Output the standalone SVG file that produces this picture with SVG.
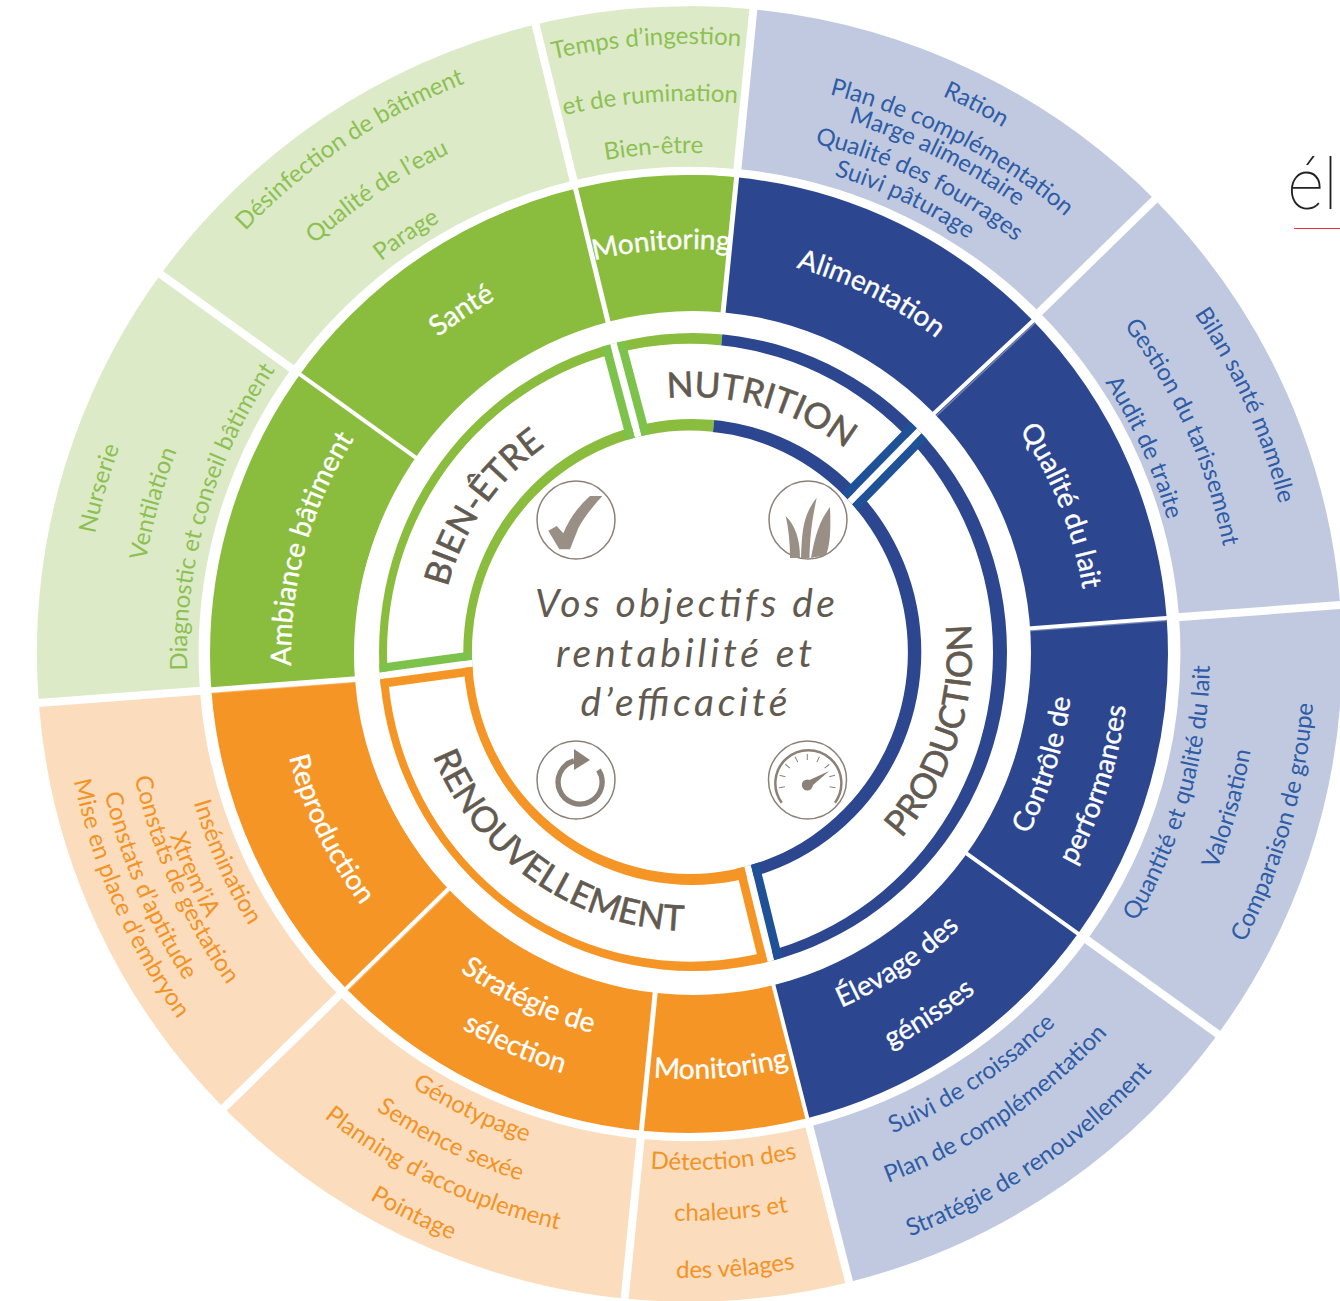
<svg xmlns="http://www.w3.org/2000/svg" xmlns:xlink="http://www.w3.org/1999/xlink" width="1340" height="1301" viewBox="0 0 1340 1301">
<style>
text{font-family:Lato,"Noto Sans",sans-serif;text-anchor:middle}
.o{font-size:24px}
.gt{fill:#8CC152}.bt{fill:#2E5CA6}.ot{fill:#F39325}
.m{font-size:28px;fill:#fff;stroke:#fff;stroke-width:.35px}
.i{font-size:35px;fill:#625A50;stroke:#625A50;stroke-width:.6px}
.c{font-size:39px;fill:#625A50;font-style:italic}
.ring{fill:none}
.ic{fill:none;stroke:#8B8178;stroke-width:1.5}
.if{fill:#998F85}
.d{stroke:#fff}
.s{stroke-width:8.5}
</style>
<defs>
<path id="t610" d="M-610 0A610 610 0 0 1 610 0"/><path id="t553" d="M-553 0A553 553 0 0 1 553 0"/><path id="t501" d="M-501 0A501 501 0 0 1 501 0"/><path id="t613" d="M-613 0A613 613 0 0 1 613 0"/><path id="t577" d="M-577 0A577 577 0 0 1 577 0"/><path id="t555" d="M-555 0A555 555 0 0 1 555 0"/><path id="t526" d="M-526 0A526 526 0 0 1 526 0"/><path id="t500" d="M-500 0A500 500 0 0 1 500 0"/><path id="t609" d="M-609 0A609 609 0 0 1 609 0"/><path id="t545" d="M-545 0A545 545 0 0 1 545 0"/><path id="t497" d="M-497 0A497 497 0 0 1 497 0"/><path id="t606" d="M-606 0A606 606 0 0 1 606 0"/><path id="t551" d="M-551 0A551 551 0 0 1 551 0"/><path id="t502" d="M-502 0A502 502 0 0 1 502 0"/><path id="t499" d="M-499 0A499 499 0 0 1 499 0"/><path id="t405" d="M-405 0A405 405 0 0 1 405 0"/><path id="t401" d="M-401 0A401 401 0 0 1 401 0"/><path id="t399" d="M-399 0A399 399 0 0 1 399 0"/><path id="t404" d="M-404 0A404 404 0 0 1 404 0"/><path id="t398" d="M-398 0A398 398 0 0 1 398 0"/><path id="t255" d="M-255 0A255 255 0 0 1 255 0"/><path id="t253" d="M-253 0A253 253 0 0 1 253 0"/>
<path id="b521" d="M-521 0A521 521 0 0 0 521 0"/><path id="b570" d="M-570 0A570 570 0 0 0 570 0"/><path id="b626" d="M-626 0A626 626 0 0 0 626 0"/><path id="b565" d="M-565 0A565 565 0 0 0 565 0"/><path id="b623" d="M-623 0A623 623 0 0 0 623 0"/><path id="b516" d="M-516 0A516 516 0 0 0 516 0"/><path id="b567" d="M-567 0A567 567 0 0 0 567 0"/><path id="b624" d="M-624 0A624 624 0 0 0 624 0"/><path id="b514" d="M-514 0A514 514 0 0 0 514 0"/><path id="b553" d="M-553 0A553 553 0 0 0 553 0"/><path id="b590" d="M-590 0A590 590 0 0 0 590 0"/><path id="b632" d="M-632 0A632 632 0 0 0 632 0"/><path id="b517" d="M-517 0A517 517 0 0 0 517 0"/><path id="b550" d="M-550 0A550 550 0 0 0 550 0"/><path id="b568" d="M-568 0A568 568 0 0 0 568 0"/><path id="b601" d="M-601 0A601 601 0 0 0 601 0"/><path id="b628" d="M-628 0A628 628 0 0 0 628 0"/><path id="b384" d="M-384 0A384 384 0 0 0 384 0"/><path id="b440" d="M-440 0A440 440 0 0 0 440 0"/><path id="b385" d="M-385 0A385 385 0 0 0 385 0"/><path id="b443" d="M-443 0A443 443 0 0 0 443 0"/><path id="b425" d="M-425 0A425 425 0 0 0 425 0"/><path id="b391" d="M-391 0A391 391 0 0 0 391 0"/><path id="b438" d="M-438 0A438 438 0 0 0 438 0"/><path id="b413" d="M-413 0A413 413 0 0 0 413 0"/><path id="b280" d="M-280 0A280 280 0 0 0 280 0"/><path id="b279" d="M-279 0A279 279 0 0 0 279 0"/>
<path id="bands" fill-rule="evenodd" d="M379 652a314 319 0 1 0 628 0a314 319 0 1 0 -628 0ZM387 652.8a303 309 0 1 0 606 0a303 309 0 1 0 -606 0ZM463.3 652a229 233 0 1 0 458 0a229 233 0 1 0 -458 0ZM471.9 652.3a218 221.7 0 1 0 436 0a218 221.7 0 1 0 -436 0Z"/>
<clipPath id="wg"><polygon points="692,652 293,678.4 292,252 730,253.8"/></clipPath>
<clipPath id="wb"><polygon points="692,652 730,253.8 1092,252 1092,1052 794,1046"/></clipPath>
<clipPath id="wo"><polygon points="692,652 794,1046 292,1052 293,678.4"/></clipPath>
<clipPath id="region"><path clip-rule="evenodd" d="M379 652a314 319 0 1 0 628 0a314 319 0 1 0 -628 0ZM471.9 652.3a218 221.7 0 1 0 436 0a218 221.7 0 1 0 -436 0Z"/></clipPath>
</defs>
<rect width="1340" height="1301" fill="#fff"/>
<g transform="translate(689 654)">
<g transform="translate(.5 0) scale(1.004 .9965)">
<g id="outer-ring" class="ring" stroke-width="161" transform="rotate(-90)">
<circle r="569.5" pathLength="360" stroke="#DCEAC8" stroke-dasharray="100 260" stroke-dashoffset="-265.7"/>
<circle r="569.5" pathLength="360" stroke="#DCEAC8" stroke-dasharray="5.7 354.3"/>
<circle r="569.5" pathLength="360" stroke="#C0C9DF" stroke-dasharray="160 200" stroke-dashoffset="-5.7"/>
<circle r="569.5" pathLength="360" stroke="#FBDDBE" stroke-dasharray="100 260" stroke-dashoffset="-165.7"/>
</g>
</g>
<g id="middle-ring" class="ring" stroke-width="144" transform="rotate(-90)">
<circle r="407" pathLength="360" stroke="#8ABD3E" stroke-dasharray="100 260" stroke-dashoffset="-265.7"/>
<circle r="407" pathLength="360" stroke="#8ABD3E" stroke-dasharray="5.7 354.3"/>
<circle r="407" pathLength="360" stroke="#2C4790" stroke-dasharray="160 200" stroke-dashoffset="-5.7"/>
<circle r="407" pathLength="360" stroke="#F49525" stroke-dasharray="100 260" stroke-dashoffset="-165.7"/>
</g>
<g id="dividers">
<g stroke-width="8" class="d">
<line y1="-486" y2="-660" transform="rotate(5.7)"/><line y1="-486" y2="-660" transform="rotate(45.7)"/><line y1="-486" y2="-660" transform="rotate(85.7)"/><line y1="-486" y2="-660" transform="rotate(125.7)"/><line y1="-486" y2="-660" transform="rotate(165.7)"/><line y1="-486" y2="-660" transform="rotate(185.7)"/><line y1="-486" y2="-660" transform="rotate(225.7)"/><line y1="-486" y2="-660" transform="rotate(265.7)"/><line y1="-486" y2="-660" transform="rotate(305.7)"/><line y1="-486" y2="-660" transform="rotate(346.3)"/>
</g>
<g stroke-width="1.5">
<line x1="2.5" x2="2.5" y1="-335" y2="-479" transform="rotate(85.7)" stroke="#7382B0"/>
<line x1="-3" x2="-3" y1="-335" y2="-479" transform="rotate(265.7)" stroke="#FAB469"/>
<line x1="-2.5" x2="-2.5" y1="-335" y2="-479" transform="rotate(225.7)" stroke="#FAB469"/>
<line x1="241" y1="-232" x2="346" y2="-331" stroke="#7382B0"/>
</g>
<g stroke-width="4" class="d">
<line y1="-330" y2="-482" transform="rotate(5.7)" stroke-width="5"/><line x1="239" y1="-235" x2="348" y2="-337" /><line y1="-330" y2="-482" transform="rotate(85.7)"/><line y1="-330" y2="-482" transform="rotate(125.7)"/><line y1="-330" y2="-482" transform="rotate(165.7)"/><line y1="-330" y2="-482" transform="rotate(185.7)" stroke-width="5"/><line y1="-330" y2="-482" transform="rotate(225.7)"/><line y1="-330" y2="-482" transform="rotate(265.7)" stroke-width="5.5"/><line y1="-330" y2="-482" transform="rotate(305.7)"/><line y1="-330" y2="-482" transform="rotate(346.3)" stroke-width="5"/>
</g>
<ellipse cx="4" cy="-1" rx="338" ry="342" fill="#fff"/>
</g>
</g>
<g id="inner-ring">
<g clip-path="url(#wg)"><use href="#bands" fill="#8ABD3E"/></g>
<g clip-path="url(#wb)"><use href="#bands" fill="#2C4790"/></g>
<g clip-path="url(#wo)"><use href="#bands" fill="#F49525"/></g>
<g clip-path="url(#region)">
<g fill="none">
<line x1="929.5" y1="420.3" x2="841.8" y2="510" stroke="#fff" stroke-width="7"/>
<line class="s" x1="924" y1="414.9" x2="836.3" y2="504.6" stroke="#1F5197"/>
<line class="s" x1="935" y1="425.7" x2="847.3" y2="515.4" stroke="#1F5197"/>
<line x1="609.5" y1="328.8" x2="641.7" y2="450" stroke="#fff" stroke-width="7"/>
<line class="s" x1="617" y1="326.8" x2="649.2" y2="448" stroke="#7DC24B"/>
<line class="s" x1="602" y1="330.8" x2="634.2" y2="452" stroke="#7DC24B"/>
<line x1="744.7" y1="854.2" x2="774.4" y2="975.4" stroke="#fff" stroke-width="7"/>
<line class="s" x1="752.2" y1="852.4" x2="781.9" y2="973.6" stroke="#1F5197"/>
<line class="s" x1="737.2" y1="856" x2="766.9" y2="977.2" stroke="#F49525"/>
<line x1="365.1" y1="677.9" x2="486.9" y2="661.3" stroke="#fff" stroke-width="7"/>
<line class="s" x1="366.2" y1="685.6" x2="488" y2="669" stroke="#F49525"/>
<line class="s" x1="364.1" y1="670.2" x2="485.9" y2="653.6" stroke="#7DC24B"/>
</g>
</g>
</g>
<g transform="translate(689 654)">
<g id="list-temps" class="o gt">
<text transform="rotate(-4)"><textPath href="#t610" startOffset="50%">Temps d’ingestion</textPath></text>
<text transform="rotate(-4)"><textPath href="#t553" startOffset="50%">et de rumination</textPath></text>
<text transform="rotate(-4)"><textPath href="#t501" startOffset="50%">Bien-être</textPath></text>
</g>
<g id="list-ration" class="o bt">
<text transform="rotate(27.6)"><textPath href="#t613" startOffset="50%">Ration</textPath></text>
<text transform="rotate(27.4)"><textPath href="#t577" startOffset="50%">Plan de complémentation</textPath></text>
<text transform="rotate(26.5)"><textPath href="#t555" startOffset="50%">Marge alimentaire</textPath></text>
<text transform="rotate(26.1)"><textPath href="#t526" startOffset="50%">Qualité des fourrages</textPath></text>
<text transform="rotate(25.4)"><textPath href="#t500" startOffset="50%">Suivi pâturage</textPath></text>
</g>
<g id="list-bilan" class="o bt">
<text transform="rotate(65.9)"><textPath href="#t609" startOffset="50%">Bilan santé mamelle</textPath></text>
<text transform="rotate(65.8)"><textPath href="#t545" startOffset="50%">Gestion du tarissement</textPath></text>
<text transform="rotate(65.6)"><textPath href="#t497" startOffset="50%">Audit de traite</textPath></text>
</g>
<g id="list-quantite" class="o bt">
<text transform="rotate(-73.9)"><textPath href="#b521" startOffset="50%">Quantité et qualité du lait</textPath></text>
<text transform="rotate(-74)"><textPath href="#b570" startOffset="50%">Valorisation</textPath></text>
<text transform="rotate(-74)"><textPath href="#b626" startOffset="50%">Comparaison de groupe</textPath></text>
</g>
<g id="list-suivi" class="o bt">
<text transform="rotate(-33.9)"><textPath href="#b521" startOffset="50%">Suivi de croissance</textPath></text>
<text transform="rotate(-34.2)"><textPath href="#b565" startOffset="50%">Plan de complémentation</textPath></text>
<text transform="rotate(-34.4)"><textPath href="#b623" startOffset="50%">Stratégie de renouvellement</textPath></text>
</g>
<g id="list-detection" class="o ot">
<text transform="rotate(-3.9)"><textPath href="#b516" startOffset="50%">Détection des</textPath></text>
<text transform="rotate(-4.3)"><textPath href="#b567" startOffset="50%">chaleurs et</textPath></text>
<text transform="rotate(-4.3)"><textPath href="#b624" startOffset="50%">des vêlages</textPath></text>
</g>
<g id="list-genotypage" class="o ot">
<text transform="rotate(25.5)"><textPath href="#b514" startOffset="50%">Génotypage</textPath></text>
<text transform="rotate(26.1)"><textPath href="#b553" startOffset="50%">Semence sexée</textPath></text>
<text transform="rotate(25.5)"><textPath href="#b590" startOffset="50%">Planning d’accouplement</textPath></text>
<text transform="rotate(26.2)"><textPath href="#b632" startOffset="50%">Pointage</textPath></text>
</g>
<g id="list-insemination" class="o ot">
<text transform="rotate(65.8)"><textPath href="#b517" startOffset="50%">Insémination</textPath></text>
<text transform="rotate(66)"><textPath href="#b550" startOffset="50%">Xtrem’iA</textPath></text>
<text transform="rotate(65.9)"><textPath href="#b568" startOffset="50%">Constats de gestation</textPath></text>
<text transform="rotate(66.8)"><textPath href="#b601" startOffset="50%">Constats d’aptitude</textPath></text>
<text transform="rotate(66.4)"><textPath href="#b628" startOffset="50%">Mise en place d’embryon</textPath></text>
</g>
<g id="list-nurserie" class="o gt">
<text transform="rotate(285.7)"><textPath href="#t606" startOffset="50%">Nurserie</textPath></text>
<text transform="rotate(285.7)"><textPath href="#t551" startOffset="50%">Ventilation</textPath></text>
<text transform="rotate(286.3)"><textPath href="#t502" startOffset="50%">Diagnostic et conseil bâtiment</textPath></text>
</g>
<g id="list-desinfection" class="o gt">
<text transform="rotate(326.1)"><textPath href="#t613" startOffset="50%">Désinfection de bâtiment</textPath></text>
<text transform="rotate(326)"><textPath href="#t555" startOffset="50%">Qualité de l’eau</textPath></text>
<text transform="rotate(326)"><textPath href="#t499" startOffset="50%">Parage</textPath></text>
</g>

<g id="seg-monitoring-top" class="m"><text transform="rotate(-3.9)"><textPath href="#t405" startOffset="50%">Monitoring</textPath></text></g>
<g id="seg-alimentation" class="m"><text transform="rotate(26.8)"><textPath href="#t401" startOffset="50%">Alimentation</textPath></text></g>
<g id="seg-qualite-lait" class="m"><text transform="rotate(68.3)"><textPath href="#t399" startOffset="50%">Qualité du lait</textPath></text></g>
<g id="seg-controle" class="m"><text transform="rotate(-72.7)"><textPath href="#b384" startOffset="50%">Contrôle de</textPath></text><text transform="rotate(-72.2)"><textPath href="#b440" startOffset="50%">performances</textPath></text></g>
<g id="seg-elevage" class="m"><text transform="rotate(-34)"><textPath href="#b385" startOffset="50%">Élevage des</textPath></text><text transform="rotate(-33.7)"><textPath href="#b443" startOffset="50%">génisses</textPath></text></g>
<g id="seg-monitoring-bottom" class="m"><text transform="rotate(-4.4)"><textPath href="#b425" startOffset="50%">Monitoring</textPath></text></g>
<g id="seg-strategie" class="m"><text transform="rotate(25.1)"><textPath href="#b391" startOffset="50%">Stratégie de</textPath></text><text transform="rotate(24)"><textPath href="#b438" startOffset="50%">sélection</textPath></text></g>
<g id="seg-reproduction" class="m"><text transform="rotate(64)"><textPath href="#b413" startOffset="50%">Reproduction</textPath></text></g>
<g id="seg-ambiance" class="m"><text transform="rotate(285.5)"><textPath href="#t398" startOffset="50%">Ambiance bâtiment</textPath></text></g>
<g id="seg-sante" class="m"><text transform="rotate(326.5)"><textPath href="#t404" startOffset="50%">Santé</textPath></text></g>
</g>
<g transform="translate(692 652)">
<g id="obj-nutrition" class="i"><text transform="rotate(15.8)"><textPath href="#t255" startOffset="50%">NUTRITION</textPath></text></g>
<g id="obj-production" class="i"><text transform="rotate(-72)"><textPath href="#b280" startOffset="50%">PRODUCTION</textPath></text></g>
<g id="obj-renouvellement" class="i"><text transform="rotate(35)"><textPath href="#b279" startOffset="50%">RENOUVELLEMENT</textPath></text></g>
<g id="obj-bien-etre" class="i"><text transform="rotate(304.7)"><textPath href="#t253" startOffset="50%">BIEN-ÊTRE</textPath></text></g>
</g>

<g id="center-text" class="c">
<text x="685" y="617" textLength="300" lengthAdjust="spacing">Vos objectifs de</text>
<text x="684" y="667" textLength="256" lengthAdjust="spacing">rentabilité et</text>
<text x="684" y="716" textLength="207" lengthAdjust="spacing">d’efficacité</text>
</g>
<g id="icon-check">
<circle class="ic" cx="576" cy="520" r="39"/>
<path class="if" d="M548.3 530.7L556.7 526L563.3 533.3Q572 512 590 496L602.3 496Q585 515 578.3 528.3L570 549.3L559.3 549.3Z"/>
</g>
<g id="icon-grass">
<circle class="ic" cx="808" cy="520" r="39"/>
<path class="if" d="M785.7 516Q800 530 800 558L790 558Q790 535 785.7 516Z"/>
<path class="if" d="M816.7 497.7C812 520 810 535 809.5 558L801 558C802 530 803 515 816.7 497.7Z"/>
<path class="if" d="M830 507C831 530 830 545 826 555L811 558C815 535 820 520 830 507Z"/>
</g>
<g id="icon-refresh">
<circle class="ic" cx="576" cy="780" r="39"/>
<path d="M574 760.9A22 22 0 1 0 598.5 770" fill="none" stroke="#8B8178" stroke-width="5.3"/>
<path d="M574 749L590 760L574 770Z" fill="#8B8178"/>
</g>
<g id="icon-gauge">
<circle class="ic" cx="807.5" cy="780" r="39"/>
<path d="M781.7 802.7A33 33 0 1 1 835 802.7" fill="none" stroke="#8B8178" stroke-width="2.5"/>
<g stroke="#8B8178" stroke-width="1">
<line x1="807.3" y1="754" x2="807.3" y2="760"/>
<line x1="807.3" y1="754" x2="807.3" y2="760" transform="rotate(25 807.3 782.7)"/>
<line x1="807.3" y1="754" x2="807.3" y2="760" transform="rotate(50 807.3 782.7)"/>
<line x1="807.3" y1="754" x2="807.3" y2="760" transform="rotate(75 807.3 782.7)"/>
<line x1="807.3" y1="754" x2="807.3" y2="760" transform="rotate(100 807.3 782.7)"/>
<line x1="807.3" y1="754" x2="807.3" y2="760" transform="rotate(-25 807.3 782.7)"/>
<line x1="807.3" y1="754" x2="807.3" y2="760" transform="rotate(-50 807.3 782.7)"/>
<line x1="807.3" y1="754" x2="807.3" y2="760" transform="rotate(-75 807.3 782.7)"/>
<line x1="807.3" y1="754" x2="807.3" y2="760" transform="rotate(-100 807.3 782.7)"/>
</g>
<circle cx="807.3" cy="785" r="5.5" fill="#8B8178"/>
<path d="M805 782L829.3 771L809.5 788Z" fill="#8B8178"/>
</g>
<g id="corner-title">
<text x="1288" y="209" style="font-family:Roboto,Lato,sans-serif;font-weight:100;font-size:70px;text-anchor:start;fill:#222">éle</text>
<line x1="1294" y1="228.5" x2="1340" y2="228.5" stroke="#E8303A" stroke-width="1"/>
</g>
</svg>
